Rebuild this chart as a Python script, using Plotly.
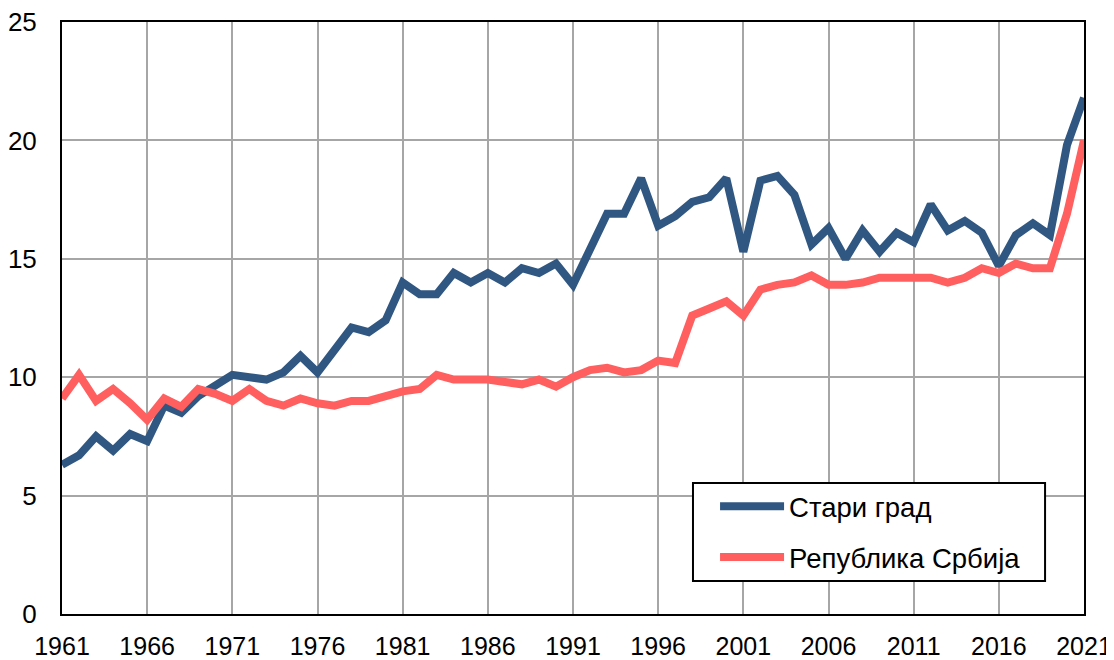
import plotly.graph_objects as go

# ── подаци ───────────────────────────────────────────────────────────────────
godine = list(range(1961, 2022))

stari_grad = [
    6.3, 6.7, 7.5, 6.9, 7.6, 7.3, 8.8, 8.5, 9.2, 9.7,
    10.1, 10.0, 9.9, 10.2, 10.9, 10.2, 11.1, 12.1, 11.9, 12.4,
    14.0, 13.5, 13.5, 14.4, 14.0, 14.4, 14.0, 14.6, 14.4, 14.8,
    13.9, 15.4, 16.9, 16.9, 18.4, 16.4, 16.8, 17.4, 17.6, 18.4,
    15.3, 18.3, 18.5, 17.7, 15.6, 16.3, 15.0, 16.2, 15.3, 16.1,
    15.7, 17.3, 16.2, 16.6, 16.1, 14.7, 16.0, 16.5, 16.0, 19.8,
    21.8,
]

srbija = [
    9.1, 10.1, 9.0, 9.5, 8.9, 8.2, 9.1, 8.75, 9.5, 9.3,
    9.0, 9.5, 9.0, 8.8, 9.1, 8.9, 8.8, 9.0, 9.0, 9.2,
    9.4, 9.5, 10.1, 9.9, 9.9, 9.9, 9.8, 9.7, 9.9, 9.6,
    10.0, 10.3, 10.4, 10.2, 10.3, 10.7, 10.6, 12.6, 12.9, 13.2,
    12.6, 13.7, 13.9, 14.0, 14.3, 13.9, 13.9, 14.0, 14.2, 14.2,
    14.2, 14.2, 14.0, 14.2, 14.6, 14.4, 14.8, 14.6, 14.6, 16.9,
    20.0,
]

x_tikovi = list(range(1961, 2022, 5))
y_tikovi = [0, 5, 10, 15, 20, 25]

PLAVA = '#305782'
CRVENA = '#FF5F5F'
SIVA = '#A6A6A6'

fig = go.Figure()
fig.add_trace(go.Scatter(
    x=godine, y=stari_grad, mode='lines', name='Стари град',
    line=dict(color=PLAVA, width=8), legendgroup='a'))
fig.add_trace(go.Scatter(
    x=godine, y=srbija, mode='lines', name='Република Србија',
    line=dict(color=CRVENA, width=8), legendgroup='b'))

fig.update_xaxes(
    range=[1961, 2021], tickvals=x_tikovi, automargin=False,
    showgrid=True, gridcolor=SIVA, gridwidth=2,
    showline=True, linecolor='black', linewidth=2, mirror=True,
    ticks='', ticklabelstandoff=9, zeroline=False, ticklabeloverflow='allow',
    tickfont=dict(size=25, color='black'))
fig.update_yaxes(
    range=[0, 25], tickvals=y_tikovi, automargin=False,
    showgrid=True, gridcolor=SIVA, gridwidth=2,
    showline=True, linecolor='black', linewidth=2, mirror=True,
    ticks='', ticklabelstandoff=18, zeroline=False, ticklabeloverflow='allow',
    tickfont=dict(size=26, color='black'))

# okvir legende (bela pozadina preko mreže)
fig.add_shape(type='rect', xref='paper', yref='paper',
    x0=0.6174, x1=0.9619, y0=0.0557, y1=0.2213,
    fillcolor='white', line=dict(color='black', width=2), layer='above')

# stranica ima 8px margine oko grafikona
fig.update_layout(
    width=1106, height=652,
    font_family='Liberation Sans, Arial, sans-serif',
    plot_bgcolor='white', paper_bgcolor='white',
    margin=dict(l=54, r=30, t=14, b=46),
    legend=dict(
        x=0.639, y=0.223, xanchor='left', yanchor='top',
        bgcolor='rgba(0,0,0,0)', borderwidth=0,
        font=dict(size=27.5, color='black'),
        tracegroupgap=12, itemwidth=64),
)

fig.write_html('out.html')
